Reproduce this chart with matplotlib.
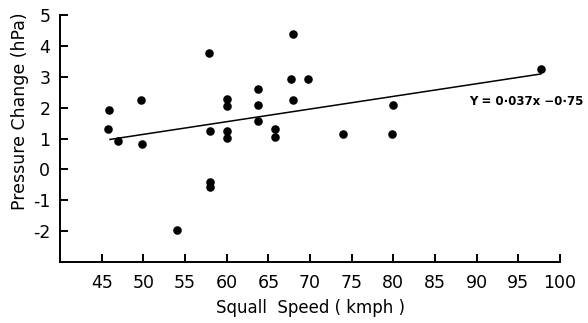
import matplotlib
matplotlib.use("Agg")
import matplotlib.pyplot as plt

# Data
speed = [45.9, 45.8, 46.9, 49.7, 49.8, 57.9, 58.0, 58.0, 58.0, 54.0,
         60.0, 60.0, 60.0, 60.0, 63.8, 63.8, 63.8, 67.9, 67.7, 69.8,
         67.9, 65.8, 65.8, 73.9, 79.8, 79.9, 97.7]
pressure = [1.91, 1.32, 0.91, 2.24, 0.81, 3.78, 1.24, -0.41, -0.57, -1.95,
            2.29, 2.04, 1.25, 1.03, 2.59, 2.10, 1.57, 4.37, 2.92, 2.92,
            2.24, 1.30, 1.05, 1.13, 1.13, 2.10, 3.25]
fit_x = [46.0, 97.7]
fit_y = [0.97, 3.09]
x_ticks = [45, 50, 55, 60, 65, 70, 75, 80, 85, 90, 95, 100]
y_ticks = [5, 4, 3, 2, 1, 0, -1, -2]
equation = "Y = 0·037x −0·75"

plt.rcParams['font.family'] = ['DejaVu Sans']
fig = plt.figure(figsize=(5.88, 3.23), dpi=100)
ax = fig.add_axes([60/588, 1 - 262/323, 500/588, 247/323])

ax.plot(fit_x, fit_y, color='black', lw=1.1, zorder=2)
ax.scatter(speed, pressure, s=38, color='black', zorder=3, linewidths=0)

ax.set_xlim(40, 100)
ax.set_ylim(-3, 5)
ax.set_xticks(x_ticks)
ax.set_yticks(y_ticks)
ax.set_yticklabels([str(v) for v in y_ticks])
for s in ['top', 'right']:
    ax.spines[s].set_visible(False)
for s in ['left', 'bottom']:
    ax.spines[s].set_linewidth(1.4)
ax.tick_params(axis='x', direction='in', length=6, width=1.4, pad=9, labelsize=12.5)
ax.tick_params(axis='y', direction='in', length=6, width=1.4, pad=7, labelsize=12.5)

ax.set_xlabel("Squall  Speed ( kmph )", fontsize=12, labelpad=5)
ax.set_ylabel("Pressure Change (hPa)", fontsize=12.5, labelpad=4)
ax.yaxis.set_label_coords(-0.062, 0.61)

ax.text(96.0, 2.2, equation, fontsize=8.5, fontweight='bold', ha='center', va='center')

fig.savefig("out.png", dpi=100)
